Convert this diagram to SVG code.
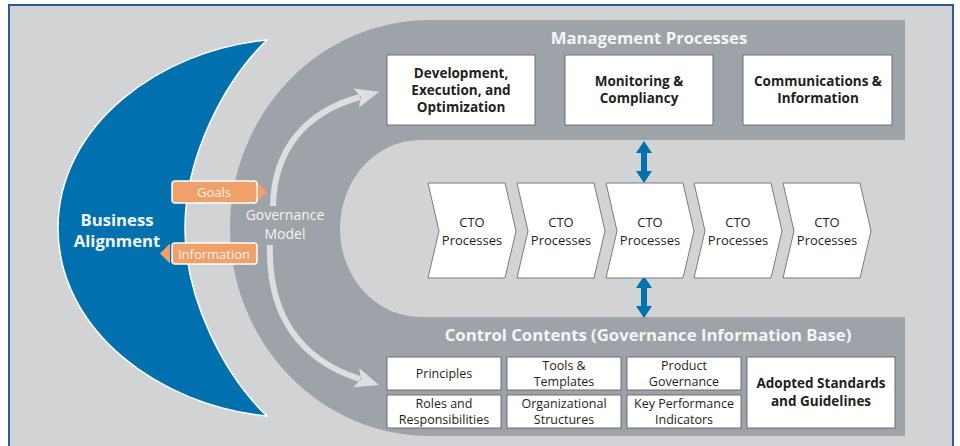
<svg xmlns="http://www.w3.org/2000/svg" width="960" height="446" viewBox="0 0 960 446">
  <style>
    text { font-family: "Open Sans", "Liberation Sans", sans-serif; text-anchor: middle; }
    .title { font-size: 16.7px; font-weight: bold; fill: #f4f5f6; }
    .big { font-size: 13.5px; font-weight: bold; fill: #231f20; }
    .small { font-size: 12.5px; fill: #231f20; }
    .cto { font-size: 13px; fill: #231f20; }
    .box { fill: #ffffff; stroke: #6d6e71; stroke-width: 1; }
    .chev { fill: #ffffff; stroke: #7a7b7d; stroke-width: 1; }
    .flow { fill: none; stroke: #dcdee0; stroke-width: 6; }
    .dbl { fill: #0072ae; }
    .tag { fill: #efa06b; stroke: #ffffff; stroke-width: 1.5; }
    .tagtxt { font-size: 13px; fill: #fdf1e4; }
    .gov { font-size: 14px; fill: #f2f3f4; }
  </style>
  <defs>
    <marker id="head" markerUnits="userSpaceOnUse" markerWidth="26" markerHeight="26" refX="4" refY="10" orient="auto" viewBox="0 0 26 20">
      <path d="M0,0 L24,10 L0,20 L5,10 Z" fill="#dcdee0"/>
    </marker>
  </defs>

  <!-- frame -->
  <rect x="0" y="0" width="960" height="446" fill="#ffffff"/>
  <rect x="9" y="5" width="944" height="450" fill="#d1d3d4" stroke="#2e5b95" stroke-width="2"/>

  <!-- governance band (U shape) -->
  <path id="band" d="M905,20 L430,20 A200,208 0 0 0 430,436 L905,436 L905,317 L420,317 A80,88.5 0 0 1 420,140 L905,140 Z" fill="#9da3a8"/>

  <!-- business alignment crescent -->
  <g id="business">
    <path d="M267,40 C160,50 58,125 58,228 C58,331 160,406 267,416 C225,376 185,300 185,228 C185,156 225,80 267,40 Z" fill="#0071ae" stroke="#ffffff" stroke-width="1.5"/>
    <text class="title" x="117" y="226">Business</text>
    <text class="title" x="117" y="247">Alignment</text>
  </g>

  <!-- goals / information tags -->
  <g id="goals">
    <path d="M257,182 L267,192 L257,202 Z" fill="#efa06b"/>
    <rect class="tag" x="172" y="181" width="85" height="22" rx="3"/>
    <text class="tagtxt" x="214" y="197">Goals</text>
  </g>
  <g id="information">
    <path d="M170,243.5 L160,253.5 L170,263.5 Z" fill="#efa06b"/>
    <rect class="tag" x="172" y="243" width="85" height="21" rx="3"/>
    <text class="tagtxt" x="214" y="258.5">Information</text>
  </g>

  <!-- governance model -->
  <g id="governance">
    <text class="gov" x="285" y="220">Governance</text>
    <text class="gov" x="285" y="239">Model</text>
  </g>

  <!-- connectors -->
  <g id="connectors">
    <path class="flow" d="M273,206 C274,150 305,112 360,97" marker-end="url(#head)"/>
    <path class="flow" d="M270,245 C268,315 300,360 360,379" marker-end="url(#head)"/>
    <polygon class="dbl" points="644,141 652,153 647,153 647,171 652,171 644,183 636,171 641,171 641,153 636,153"/>
    <polygon class="dbl" points="644,276 652,288 647,288 647,306 652,306 644,318 636,306 641,306 641,288 636,288"/>
  </g>

  <!-- management processes -->
  <text class="title" x="649" y="44">Management Processes</text>
  <g id="dev">
    <rect class="box" x="387" y="55" width="148" height="70"/>
    <text class="big" x="461" y="78">Development,</text>
    <text class="big" x="461" y="95">Execution, and</text>
    <text class="big" x="461" y="112">Optimization</text>
  </g>
  <g id="monitoring">
    <rect class="box" x="565" y="55" width="148" height="70"/>
    <text class="big" x="639" y="86">Monitoring &amp;</text>
    <text class="big" x="639" y="103">Compliancy</text>
  </g>
  <g id="communications">
    <rect class="box" x="743" y="55" width="149" height="70"/>
    <text class="big" x="818" y="86">Communications &amp;</text>
    <text class="big" x="818" y="103">Information</text>
  </g>

  <!-- CTO process chain -->
  <g id="cto1">
    <path class="chev" d="M428,183 L505,183 L516,231 L505,278 L428,278 L439,231 Z"/>
    <text class="cto" x="472" y="227">CTO</text>
    <text class="cto" x="472" y="245">Processes</text>
  </g>
  <g id="cto2">
    <path class="chev" d="M517,183 L594,183 L605,231 L594,278 L517,278 L528,231 Z"/>
    <text class="cto" x="561" y="227">CTO</text>
    <text class="cto" x="561" y="245">Processes</text>
  </g>
  <g id="cto3">
    <path class="chev" d="M606,183 L683,183 L694,231 L683,278 L606,278 L617,231 Z"/>
    <text class="cto" x="650" y="227">CTO</text>
    <text class="cto" x="650" y="245">Processes</text>
  </g>
  <g id="cto4">
    <path class="chev" d="M694,183 L771,183 L782,231 L771,278 L694,278 L705,231 Z"/>
    <text class="cto" x="738" y="227">CTO</text>
    <text class="cto" x="738" y="245">Processes</text>
  </g>
  <g id="cto5">
    <path class="chev" d="M783,183 L860,183 L871,231 L860,278 L783,278 L794,231 Z"/>
    <text class="cto" x="827" y="227">CTO</text>
    <text class="cto" x="827" y="245">Processes</text>
  </g>

  <!-- control contents -->
  <text class="title" x="648" y="341">Control Contents (Governance Information Base)</text>
  <g id="principles">
    <rect class="box" x="387" y="357" width="114" height="33"/>
    <text class="small" x="444" y="378">Principles</text>
  </g>
  <g id="tools">
    <rect class="box" x="507" y="357" width="114" height="33"/>
    <text class="small" x="564" y="370">Tools &amp;</text>
    <text class="small" x="564" y="386">Templates</text>
  </g>
  <g id="product">
    <rect class="box" x="627" y="357" width="114" height="33"/>
    <text class="small" x="684" y="370">Product</text>
    <text class="small" x="684" y="386">Governance</text>
  </g>
  <g id="roles">
    <rect class="box" x="387" y="395" width="114" height="33"/>
    <text class="small" x="444" y="408">Roles and</text>
    <text class="small" x="444" y="424">Responsibilities</text>
  </g>
  <g id="org">
    <rect class="box" x="507" y="395" width="114" height="33"/>
    <text class="small" x="564" y="408">Organizational</text>
    <text class="small" x="564" y="424">Structures</text>
  </g>
  <g id="kpi">
    <rect class="box" x="627" y="395" width="114" height="33"/>
    <text class="small" x="684" y="408">Key Performance</text>
    <text class="small" x="684" y="424">Indicators</text>
  </g>
  <g id="standards">
    <rect class="box" x="747" y="357" width="148" height="71"/>
    <text class="big" x="821" y="388">Adopted Standards</text>
    <text class="big" x="821" y="406">and Guidelines</text>
  </g>
</svg>
